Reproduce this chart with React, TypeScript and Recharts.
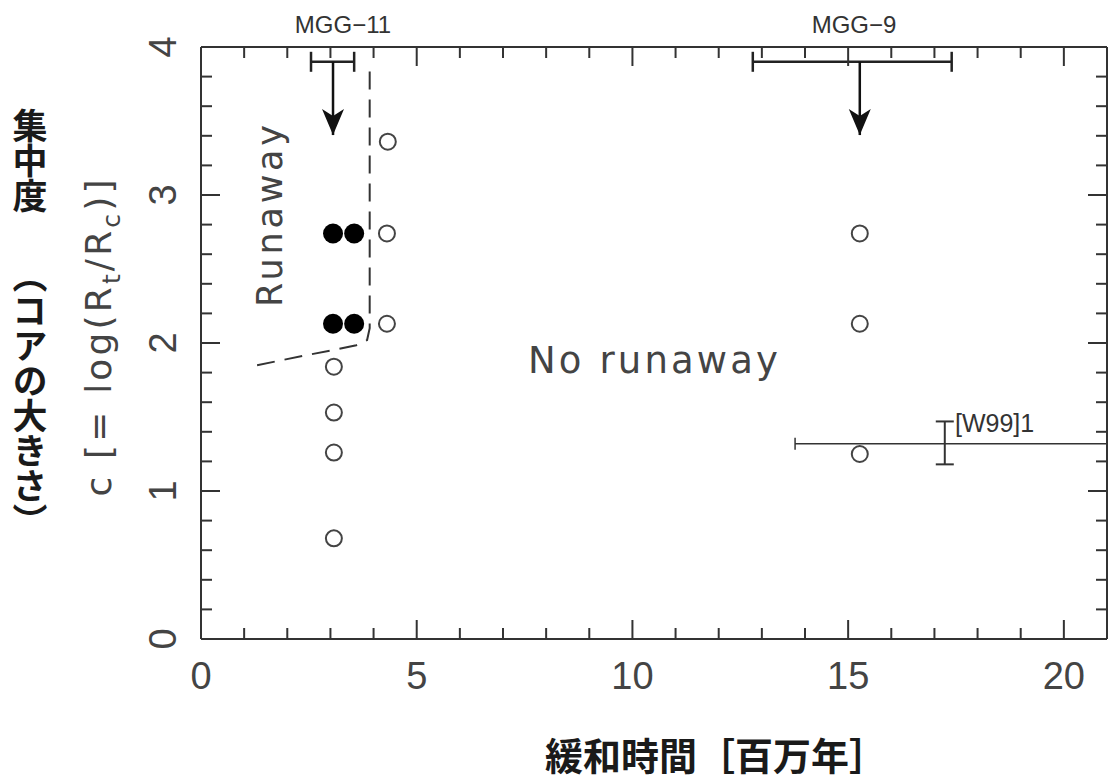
import React from 'react';
import {
  ScatterChart,
  Scatter,
  XAxis,
  YAxis,
  ErrorBar,
  Customized,
} from 'recharts';

// axis ticks (minor every 1 Myr / 0.2 in c; labels on the majors)
const xTicks = [0, 1, 2, 3, 4, 5, 6, 7, 8, 9, 10, 11, 12, 13, 14, 15, 16, 17, 18, 19, 20, 21];
const xLabels = [0, 5, 10, 15, 20];
const yTicks = [0, 0.2, 0.4, 0.6, 0.8, 1, 1.2, 1.4, 1.6, 1.8, 2, 2.2, 2.4, 2.6, 2.8, 3, 3.2, 3.4, 3.6, 3.8, 4];
const yLabels = [0, 1, 2, 3, 4];

// clusters without runaway (open circles)
const noRunaway = [
  { x: 3.08, y: 1.84 },
  { x: 3.08, y: 1.53 },
  { x: 3.08, y: 1.26 },
  { x: 3.08, y: 0.68 },
  { x: 4.33, y: 3.36 },
  { x: 4.31, y: 2.74 },
  { x: 4.31, y: 2.13 },
  { x: 15.27, y: 2.74 },
  { x: 15.27, y: 2.13 },
  { x: 15.27, y: 1.25 },
];

// clusters with runaway (filled circles)
const runaway = [
  { x: 3.06, y: 2.74 },
  { x: 3.55, y: 2.74 },
  { x: 3.06, y: 2.13 },
  { x: 3.55, y: 2.13 },
];

// MGG-11 / MGG-9 upper limits: bar + downward arrow
const mggBars = [
  { x: 3.06, y: 3.9, xErr: [0.51, 0.49] },
  { x: 15.27, y: 3.9, xErr: [2.48, 2.13] },
];
const mgg11Arrow = [
  { x: 3.06, y: 3.9 },
  { x: 3.06, y: 3.405, tip: true },
];
const mgg9Arrow = [
  { x: 15.27, y: 3.9 },
  { x: 15.27, y: 3.405, tip: true },
];

// [W99]1
const w99 = [{ x: 17.24, y: 1.32, xErr: [3.47, 3.76], yErr: [0.14, 0.15] }];

// runaway / no-runaway boundary (dashed)
const boundary = [
  { x: 1.3, y: 1.85 },
  { x: 2.4, y: 1.915 },
  { x: 3.1, y: 1.955 },
  { x: 3.6, y: 1.985 },
  { x: 3.85, y: 2.02 },
  { x: 3.91, y: 2.1 },
  { x: 3.91, y: 3.85 },
];

const INK = '#333';
const LATIN = '"Liberation Sans", Arial, sans-serif';
const WIDE = '"DejaVu Sans", sans-serif';
const CJK = '"Noto Sans CJK JP", sans-serif';

const isMajorX = (v: number) => v % 5 === 0;
const isMajorY = (v: number) => Math.abs(v - Math.round(v)) < 1e-6;

function BottomTick({ x, y, payload }: any) {
  const v = payload.value;
  const major = isMajorX(v);
  return (
    <g>
      <line x1={x} x2={x} y1={y} y2={y - (major ? 19 : 11)} stroke={INK} strokeWidth={2} />
      {xLabels.includes(v) && (
        <text x={x} y={y + 50} textAnchor="middle" fontSize={38} fill="#444" fontFamily={LATIN}>
          {v}
        </text>
      )}
    </g>
  );
}

function TopTick({ x, y, payload }: any) {
  const major = isMajorX(payload.value);
  return <line x1={x} x2={x} y1={y} y2={y + (major ? 19 : 11)} stroke={INK} strokeWidth={2} />;
}

function LeftTick({ x, y, payload }: any) {
  const v = payload.value;
  const major = isMajorY(v);
  const lbl = yLabels.find((l) => Math.abs(l - v) < 1e-6);
  return (
    <g>
      <line x1={x} x2={x + (major ? 19 : 11)} y1={y} y2={y} stroke={INK} strokeWidth={2} />
      {lbl !== undefined && (
        <text
          x={x - 25}
          y={y}
          transform={`rotate(-90 ${x - 25} ${y})`}
          textAnchor="middle"
          fontSize={38}
          fill="#444"
          fontFamily={LATIN}
        >
          {lbl}
        </text>
      )}
    </g>
  );
}

function RightTick({ x, y, payload }: any) {
  const major = isMajorY(payload.value);
  return <line x1={x} x2={x - (major ? 19 : 11)} y1={y} y2={y} stroke={INK} strokeWidth={2} />;
}

const openDot = (p: any) => (
  <circle cx={p.cx} cy={p.cy} r={8} fill="#fff" stroke="#444" strokeWidth={2} />
);
const fullDot = (p: any) => <circle cx={p.cx} cy={p.cy} r={10} fill="#000" />;
const noDot = () => <g />;
const arrowHead = (p: any) =>
  p.payload && p.payload.tip ? (
    <path
      d={`M${p.cx},${p.cy} L${p.cx - 11},${p.cy - 26} L${p.cx},${p.cy - 19} L${p.cx + 11},${p.cy - 26} Z`}
      fill="#111"
    />
  ) : (
    <g />
  );

function Annotations() {
  return (
    <g>
      <text x={343} y={33} textAnchor="middle" fontSize={24} fill={INK} fontFamily={LATIN}>
        MGG−11
      </text>
      <text x={854} y={33} textAnchor="middle" fontSize={24} fill={INK} fontFamily={LATIN}>
        MGG−9
      </text>
      <text x={955} y={432} fontSize={25} fill={INK} fontFamily={LATIN}>
        [W99]1
      </text>
      <text
        x={653}
        y={373}
        textAnchor="middle"
        fontSize={37}
        fill="#444"
        fontFamily={WIDE}
        textLength={250}
        lengthAdjust="spacing"
      >
        No runaway
      </text>
      <text
        x={282}
        y={216}
        transform="rotate(-90 282 216)"
        textAnchor="middle"
        fontSize={35}
        fill="#444"
        fontFamily={WIDE}
        textLength={182}
        lengthAdjust="spacing"
      >
        Runaway
      </text>
      <text
        x={111}
        y={338}
        transform="rotate(-90 111 338)"
        textAnchor="middle"
        fontSize={36}
        fill="#444"
        fontFamily={WIDE}
        textLength={317}
        lengthAdjust="spacing"
      >
        <tspan>c [= log(R</tspan>
        <tspan fontSize={25} dy={9}>t</tspan>
        <tspan dy={-9}>/R</tspan>
        <tspan fontSize={25} dy={9}>c</tspan>
        <tspan dy={-9}>)]</tspan>
      </text>
      <text
        x={30}
        y={108}
        fontSize={35}
        fontWeight="bold"
        fill="#1a1a1a"
        fontFamily={CJK}
        style={{ writingMode: 'vertical-rl' }}
      >
        集中度
      </text>
      <text
        x={30}
        y={258}
        fontSize={35}
        fontWeight="bold"
        fill="#1a1a1a"
        fontFamily={CJK}
        style={{ writingMode: 'vertical-rl' }}
      >
        （コアの大きさ）
      </text>
      <text x={716} y={770} textAnchor="middle" fontSize={38} fontWeight="bold" fill="#1a1a1a" fontFamily={CJK}>
        緩和時間［百万年］
      </text>
    </g>
  );
}

export default function App() {
  return (
    <div style={{ position: 'absolute', left: 0, top: 0, background: '#fff' }}>
      <ScatterChart width={1109} height={783} margin={{ top: 27, right: 0, bottom: 84, left: 141 }}>
        <XAxis
          xAxisId={0}
          type="number"
          dataKey="x"
          domain={[0, 21]}
          allowDataOverflow
          ticks={xTicks}
          interval={0}
          height={60}
          tickSize={0}
          tickMargin={0}
          tickLine={false}
          tick={<BottomTick />}
          axisLine={{ stroke: INK, strokeWidth: 2 }}
        />
        <XAxis
          xAxisId="top"
          orientation="top"
          type="number"
          dataKey="x"
          domain={[0, 21]}
          allowDataOverflow
          ticks={xTicks}
          interval={0}
          height={20}
          tickSize={0}
          tickMargin={0}
          tickLine={false}
          tick={<TopTick />}
          axisLine={{ stroke: INK, strokeWidth: 2 }}
        />
        <YAxis
          yAxisId={0}
          type="number"
          dataKey="y"
          domain={[0, 4]}
          allowDataOverflow
          ticks={yTicks}
          interval={0}
          width={60}
          tickSize={0}
          tickMargin={0}
          tickLine={false}
          tick={<LeftTick />}
          axisLine={{ stroke: INK, strokeWidth: 2 }}
        />
        <YAxis
          yAxisId="right"
          orientation="right"
          type="number"
          dataKey="y"
          domain={[0, 4]}
          allowDataOverflow
          ticks={yTicks}
          interval={0}
          width={2}
          tickSize={0}
          tickMargin={0}
          tickLine={false}
          tick={<RightTick />}
          axisLine={{ stroke: INK, strokeWidth: 2 }}
        />

        <Scatter
          data={boundary}
          isAnimationActive={false}
          line={{ stroke: '#333', strokeWidth: 2, strokeDasharray: '18 10' }}
          lineType="joint"
          shape={noDot}
        />

        <Scatter data={mggBars} isAnimationActive={false} shape={noDot}>
          <ErrorBar dataKey="xErr" direction="x" width={10} stroke="#222" strokeWidth={2.5} isAnimationActive={false} />
        </Scatter>
        <Scatter
          data={mgg11Arrow}
          isAnimationActive={false}
          line={{ stroke: '#111', strokeWidth: 2.5 }}
          lineType="joint"
          shape={arrowHead}
        />
        <Scatter
          data={mgg9Arrow}
          isAnimationActive={false}
          line={{ stroke: '#111', strokeWidth: 2.5 }}
          lineType="joint"
          shape={arrowHead}
        />

        <Scatter data={w99} isAnimationActive={false} shape={noDot}>
          <ErrorBar dataKey="xErr" direction="x" width={6} stroke="#333" strokeWidth={1.5} isAnimationActive={false} />
          <ErrorBar dataKey="yErr" direction="y" width={9} stroke="#333" strokeWidth={2} isAnimationActive={false} />
        </Scatter>

        <Scatter data={noRunaway} isAnimationActive={false} shape={openDot} />
        <Scatter data={runaway} isAnimationActive={false} shape={fullDot} />

        <Customized component={Annotations} />
      </ScatterChart>
    </div>
  );
}
